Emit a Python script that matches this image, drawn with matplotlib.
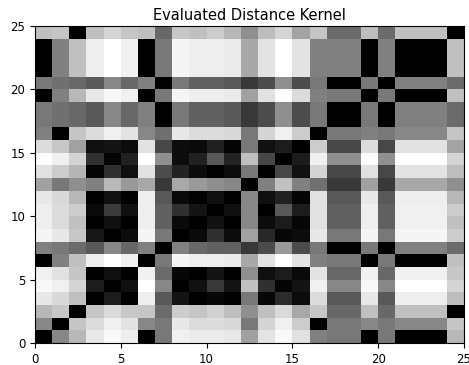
import numpy as np
import matplotlib
matplotlib.use("Agg")
import matplotlib.pyplot as plt

# Gray levels (0 = black, 1 = white) read row by row, row 0 at the bottom
row00 = [0, .53, .72, .91, .97, .93, 0, .47, .94, .92, .92, .91, .63, .89, .97, .88, .50, .47, .47, 0, .47, 0, 0, 0, .72]
row01 = [.53, 0, .77, .86, .94, .89, .53, .47, .91, .86, .86, .85, .47, .83, .94, .80, 0, .47, .47, .53, .47, .53, .53, .53, .77]
row02 = [.72, .78, 0, .77, .85, .78, .77, .42, .80, .77, .82, .75, .56, .75, .85, .66, .78, .41, .41, .75, .41, .75, .75, .75, 0]
row03 = [.91, .85, .75, 0, .11, 0, .93, .35, .08, 0, .03, 0, .47, .03, .17, .05, .86, .35, .35, .91, .35, .93, .93, .93, .74]
row04 = [.97, .94, .83, .11, 0, .06, 1.0, .53, 0, .07, .22, .08, .75, .19, .02, .08, .94, .53, .53, .97, .53, 1.0, 1.0, 1.0, .83]
row05 = [.94, .88, .77, 0, .06, 0, .94, .42, .03, 0, .08, 0, .56, .06, .11, .04, .89, .41, .41, .94, .41, .94, .94, .94, .78]
row06 = [0, .50, .75, .93, 1.0, .94, 0, .47, .96, .93, .93, .92, .66, .89, 1.0, .89, .50, .47, .47, 0, .47, 0, 0, 0, .75]
row07 = [.50, .47, .42, .35, .53, .41, .50, 0, .50, .41, .38, .38, .22, .30, .60, .30, .47, 0, 0, .47, 0, .50, .50, .50, .42]
row08 = [.96, .91, .78, .09, 0, .05, .96, .47, 0, .04, .19, .05, .63, .16, .03, .05, .91, .47, .47, .96, .47, .96, .96, .96, .80]
row09 = [.93, .86, .75, 0, .06, 0, .93, .38, .04, 0, .07, 0, .53, .05, .11, .03, .88, .38, .38, .93, .38, .94, .94, .94, .75]
row10 = [.93, .86, .80, .04, .23, .06, .93, .38, .19, .08, 0, .06, .53, 0, .35, .11, .88, .38, .38, .93, .38, .94, .94, .94, .80]
row11 = [.91, .85, .72, 0, .07, 0, .93, .35, .04, .01, .06, 0, .53, .06, .13, .02, .88, .35, .35, .91, .35, .93, .93, .93, .72]
row12 = [.63, .47, .56, .50, .72, .60, .66, .22, .66, .60, .56, .53, 0, .50, .75, .50, .44, .22, .22, .63, .22, .66, .66, .66, .56]
row13 = [.88, .80, .71, .02, .19, .06, .88, .30, .14, .05, 0, .05, .47, 0, .28, .07, .83, .28, .28, .88, .28, .89, .89, .89, .74]
row14 = [.99, .94, .83, .19, .02, .13, 1.0, .56, .05, .13, .35, .14, .75, .28, 0, .11, .94, .56, .56, .99, .56, 1.0, 1.0, 1.0, .83]
row15 = [.86, .78, .63, .06, .08, .05, .88, .28, .05, .04, .13, .02, .47, .07, .11, 0, .80, .28, .28, .86, .28, .88, .88, .88, .64]
row16 = [.50, 0, .77, .86, .94, .89, .53, .44, .91, .86, .86, .85, .47, .83, .94, .80, 0, .47, .47, .50, .47, .53, .53, .53, .77]
row17 = [.47, .44, .41, .35, .53, .41, .50, 0, .47, .38, .38, .35, .22, .30, .56, .30, .47, 0, 0, .47, 0, .50, .50, .50, .42]
row18 = [.47, .44, .41, .35, .53, .41, .50, 0, .47, .38, .38, .35, .22, .30, .56, .30, .47, 0, 0, .47, 0, .50, .50, .50, .42]
row19 = [0, .50, .72, .91, .97, .94, 0, .47, .96, .93, .93, .92, .63, .88, .99, .86, .50, .47, .47, 0, .47, 0, 0, 0, .75]
row20 = [.47, .44, .41, .35, .53, .41, .50, 0, .47, .38, .38, .35, .22, .30, .56, .30, .47, 0, 0, .47, 0, .50, .50, .50, .42]
row21 = [0, .50, .75, .93, 1.0, .94, 0, .47, .96, .93, .93, .92, .66, .89, 1.0, .89, .50, .50, .50, 0, .50, 0, 0, 0, .75]
row22 = [0, .50, .75, .93, 1.0, .94, 0, .47, .96, .93, .93, .92, .66, .89, 1.0, .89, .50, .50, .50, 0, .50, 0, 0, 0, .75]
row23 = [0, .50, .75, .93, 1.0, .94, 0, .47, .96, .93, .93, .92, .66, .89, 1.0, .89, .50, .50, .50, 0, .50, 0, 0, 0, .75]
row24 = [.75, .77, 0, .75, .83, .77, .75, .41, .78, .75, .80, .72, .56, .74, .83, .64, .77, .42, .42, .74, .42, .75, .75, .75, 0]

title = "Evaluated Distance Kernel"
xticks = [0, 5, 10, 15, 20, 25]
yticks = [0, 5, 10, 15, 20, 25]

K = np.array([row00, row01, row02, row03, row04, row05, row06, row07, row08,
              row09, row10, row11, row12, row13, row14, row15, row16, row17,
              row18, row19, row20, row21, row22, row23, row24])

fig = plt.figure(figsize=(4.69, 3.65), dpi=100)
ax = fig.add_axes([35/469, 22/365, 429/469, 317/365])
ax.pcolormesh(K, cmap="gray", vmin=0, vmax=1)
ax.set_xlim(0, 25)
ax.set_ylim(0, 25)
ax.set_xticks(xticks)
ax.set_yticks(yticks)
ax.tick_params(labelsize=8.5, length=3.5)
ax.set_title(title, fontsize=10.5, pad=4)
fig.savefig("out.png", dpi=100)
